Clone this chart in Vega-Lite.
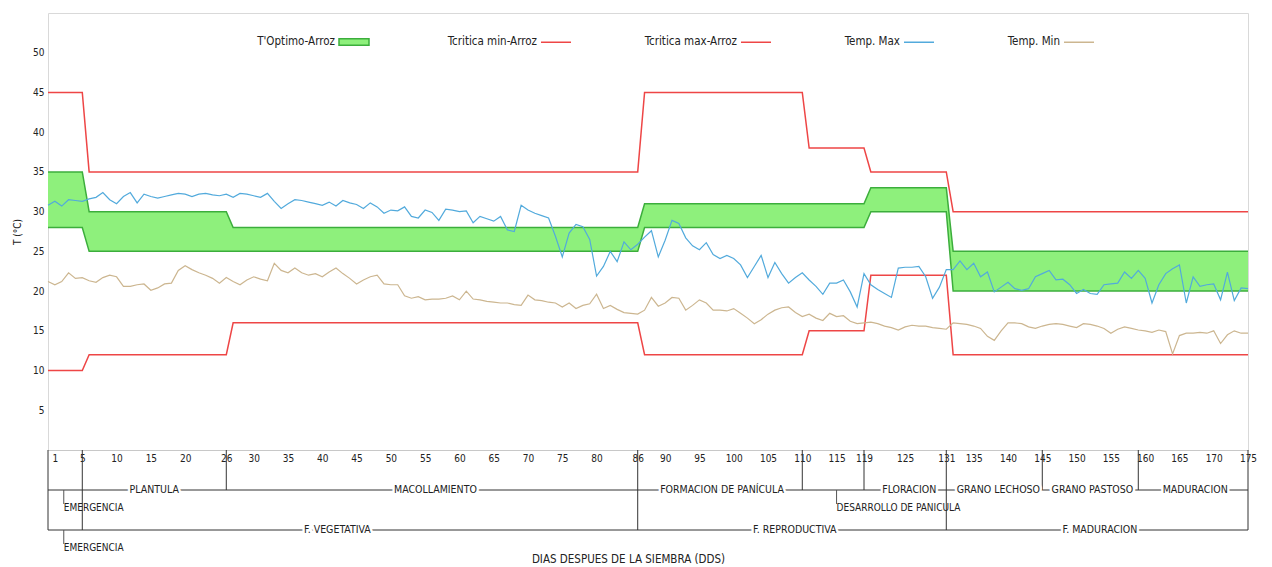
{
  "$schema": "https://vega.github.io/schema/vega-lite/v6.json",
  "width": 1200,
  "height": 437,
  "autosize": {"type": "none"},
  "padding": {"left": 48, "top": 13, "right": 24, "bottom": 117},
  "background": "white",
  "config": {
    "font": "DejaVu Sans Condensed, sans-serif",
    "view": {"stroke": "#d9d9d9", "strokeWidth": 1},
    "axis": {"labelColor": "#222", "titleColor": "#222", "titleFontWeight": "normal", "grid": false, "ticks": false},
    "axisX": {"labelOverlap": false, "labelFlush": false},
    "text": {"font": "DejaVu Sans Condensed, sans-serif"},
    "legend": {"labelFont": "DejaVu Sans Condensed, sans-serif"}
  },
  "datasets": {
    "umbrales": [
      {"dia": 0, "opt_min": 28, "opt_max": 35, "crit_min": 10, "crit_max": 45},
      {"dia": 5, "opt_min": 28, "opt_max": 35, "crit_min": 10, "crit_max": 45},
      {"dia": 6, "opt_min": 25, "opt_max": 30, "crit_min": 12, "crit_max": 35},
      {"dia": 26, "opt_min": 25, "opt_max": 30, "crit_min": 12, "crit_max": 35},
      {"dia": 27, "opt_min": 25, "opt_max": 28, "crit_min": 16, "crit_max": 35},
      {"dia": 86, "opt_min": 25, "opt_max": 28, "crit_min": 16, "crit_max": 35},
      {"dia": 87, "opt_min": 28, "opt_max": 31, "crit_min": 12, "crit_max": 45},
      {"dia": 110, "opt_min": 28, "opt_max": 31, "crit_min": 12, "crit_max": 45},
      {"dia": 111, "opt_min": 28, "opt_max": 31, "crit_min": 15, "crit_max": 38},
      {"dia": 119, "opt_min": 28, "opt_max": 31, "crit_min": 15, "crit_max": 38},
      {"dia": 120, "opt_min": 30, "opt_max": 33, "crit_min": 22, "crit_max": 35},
      {"dia": 131, "opt_min": 30, "opt_max": 33, "crit_min": 22, "crit_max": 35},
      {"dia": 132, "opt_min": 20, "opt_max": 25, "crit_min": 12, "crit_max": 30},
      {"dia": 175, "opt_min": 20, "opt_max": 25, "crit_min": 12, "crit_max": 30}
    ],
    "diarias": [
      {"dia":0,"tmax":30.8,"tmin":21.2},{"dia":1,"tmax":31.3,"tmin":20.8},{"dia":2,"tmax":30.7,"tmin":21.2},{"dia":3,"tmax":31.5,"tmin":22.3},
      {"dia":4,"tmax":31.4,"tmin":21.6},{"dia":5,"tmax":31.3,"tmin":21.7},{"dia":6,"tmax":31.6,"tmin":21.3},{"dia":7,"tmax":31.8,"tmin":21.1},
      {"dia":8,"tmax":32.4,"tmin":21.7},{"dia":9,"tmax":31.5,"tmin":22.0},{"dia":10,"tmax":31.0,"tmin":21.8},{"dia":11,"tmax":31.9,"tmin":20.6},
      {"dia":12,"tmax":32.4,"tmin":20.6},{"dia":13,"tmax":31.1,"tmin":20.8},{"dia":14,"tmax":32.2,"tmin":20.9},{"dia":15,"tmax":31.9,"tmin":20.1},
      {"dia":16,"tmax":31.7,"tmin":20.4},{"dia":17,"tmax":31.9,"tmin":20.9},{"dia":18,"tmax":32.1,"tmin":21.0},{"dia":19,"tmax":32.3,"tmin":22.6},
      {"dia":20,"tmax":32.2,"tmin":23.2},{"dia":21,"tmax":31.9,"tmin":22.7},{"dia":22,"tmax":32.2,"tmin":22.3},{"dia":23,"tmax":32.3,"tmin":22.0},
      {"dia":24,"tmax":32.1,"tmin":21.6},{"dia":25,"tmax":32.0,"tmin":21.0},{"dia":26,"tmax":32.2,"tmin":21.7},{"dia":27,"tmax":31.8,"tmin":21.2},
      {"dia":28,"tmax":32.3,"tmin":20.8},{"dia":29,"tmax":32.2,"tmin":21.4},{"dia":30,"tmax":32.0,"tmin":21.8},{"dia":31,"tmax":31.8,"tmin":21.5},
      {"dia":32,"tmax":32.3,"tmin":21.3},{"dia":33,"tmax":31.3,"tmin":23.5},{"dia":34,"tmax":30.4,"tmin":22.6},{"dia":35,"tmax":31.0,"tmin":22.3},
      {"dia":36,"tmax":31.5,"tmin":22.9},{"dia":37,"tmax":31.4,"tmin":22.3},{"dia":38,"tmax":31.2,"tmin":22.0},{"dia":39,"tmax":31.0,"tmin":22.2},
      {"dia":40,"tmax":30.8,"tmin":21.8},{"dia":41,"tmax":31.2,"tmin":22.4},{"dia":42,"tmax":30.7,"tmin":22.9},{"dia":43,"tmax":31.4,"tmin":22.2},
      {"dia":44,"tmax":31.1,"tmin":21.6},{"dia":45,"tmax":30.9,"tmin":20.9},{"dia":46,"tmax":30.4,"tmin":21.4},{"dia":47,"tmax":31.1,"tmin":21.8},
      {"dia":48,"tmax":30.6,"tmin":22.0},{"dia":49,"tmax":29.8,"tmin":20.9},{"dia":50,"tmax":30.2,"tmin":20.8},{"dia":51,"tmax":30.1,"tmin":20.8},
      {"dia":52,"tmax":30.6,"tmin":19.4},{"dia":53,"tmax":29.4,"tmin":19.1},{"dia":54,"tmax":29.2,"tmin":19.3},{"dia":55,"tmax":30.2,"tmin":18.9},
      {"dia":56,"tmax":29.9,"tmin":19.0},{"dia":57,"tmax":28.9,"tmin":19.0},{"dia":58,"tmax":30.3,"tmin":19.1},{"dia":59,"tmax":30.2,"tmin":19.4},
      {"dia":60,"tmax":30.0,"tmin":18.9},{"dia":61,"tmax":30.1,"tmin":20.0},{"dia":62,"tmax":28.6,"tmin":19.0},{"dia":63,"tmax":29.4,"tmin":18.9},
      {"dia":64,"tmax":29.1,"tmin":18.7},{"dia":65,"tmax":28.8,"tmin":18.6},{"dia":66,"tmax":29.4,"tmin":18.5},{"dia":67,"tmax":27.7,"tmin":18.5},
      {"dia":68,"tmax":27.5,"tmin":18.3},{"dia":69,"tmax":30.8,"tmin":18.2},{"dia":70,"tmax":30.2,"tmin":19.5},{"dia":71,"tmax":29.8,"tmin":18.9},
      {"dia":72,"tmax":29.5,"tmin":18.8},{"dia":73,"tmax":29.2,"tmin":18.6},{"dia":74,"tmax":26.9,"tmin":18.5},{"dia":75,"tmax":24.3,"tmin":18.0},
      {"dia":76,"tmax":27.3,"tmin":18.5},{"dia":77,"tmax":28.4,"tmin":17.8},{"dia":78,"tmax":28.1,"tmin":18.2},{"dia":79,"tmax":26.5,"tmin":18.4},
      {"dia":80,"tmax":21.9,"tmin":19.6},{"dia":81,"tmax":23.1,"tmin":17.8},{"dia":82,"tmax":25.0,"tmin":18.2},{"dia":83,"tmax":23.7,"tmin":17.7},
      {"dia":84,"tmax":26.2,"tmin":17.3},{"dia":85,"tmax":25.2,"tmin":17.2},{"dia":86,"tmax":25.9,"tmin":17.1},{"dia":87,"tmax":26.8,"tmin":17.6},
      {"dia":88,"tmax":27.6,"tmin":19.2},{"dia":89,"tmax":24.3,"tmin":18.1},{"dia":90,"tmax":26.4,"tmin":18.5},{"dia":91,"tmax":28.9,"tmin":19.2},
      {"dia":92,"tmax":28.5,"tmin":19.1},{"dia":93,"tmax":26.7,"tmin":17.6},{"dia":94,"tmax":25.7,"tmin":18.2},{"dia":95,"tmax":25.2,"tmin":18.9},
      {"dia":96,"tmax":26.1,"tmin":18.5},{"dia":97,"tmax":24.6,"tmin":17.6},{"dia":98,"tmax":24.1,"tmin":17.6},{"dia":99,"tmax":24.5,"tmin":17.5},
      {"dia":100,"tmax":24.1,"tmin":17.8},{"dia":101,"tmax":23.3,"tmin":17.2},{"dia":102,"tmax":21.7,"tmin":16.6},{"dia":103,"tmax":23.1,"tmin":15.9},
      {"dia":104,"tmax":24.5,"tmin":16.4},{"dia":105,"tmax":21.7,"tmin":17.1},{"dia":106,"tmax":23.6,"tmin":17.6},{"dia":107,"tmax":22.2,"tmin":17.9},
      {"dia":108,"tmax":21.0,"tmin":18.0},{"dia":109,"tmax":21.7,"tmin":17.3},{"dia":110,"tmax":22.3,"tmin":16.8},{"dia":111,"tmax":21.4,"tmin":17.1},
      {"dia":112,"tmax":20.6,"tmin":16.6},{"dia":113,"tmax":19.6,"tmin":16.3},{"dia":114,"tmax":21.0,"tmin":17.2},{"dia":115,"tmax":21.0,"tmin":16.8},
      {"dia":116,"tmax":21.4,"tmin":16.9},{"dia":117,"tmax":19.9,"tmin":16.2},{"dia":118,"tmax":18.0,"tmin":15.9},{"dia":119,"tmax":22.2,"tmin":16.0},
      {"dia":120,"tmax":20.8,"tmin":16.1},{"dia":121,"tmax":20.2,"tmin":15.9},{"dia":122,"tmax":19.7,"tmin":15.6},{"dia":123,"tmax":19.2,"tmin":15.4},
      {"dia":124,"tmax":22.9,"tmin":15.1},{"dia":125,"tmax":23.0,"tmin":15.5},{"dia":126,"tmax":23.0,"tmin":15.7},{"dia":127,"tmax":23.1,"tmin":15.6},
      {"dia":128,"tmax":21.8,"tmin":15.6},{"dia":129,"tmax":19.1,"tmin":15.4},{"dia":130,"tmax":20.5,"tmin":15.3},{"dia":131,"tmax":22.7,"tmin":15.2},
      {"dia":132,"tmax":22.7,"tmin":16.0},{"dia":133,"tmax":23.8,"tmin":15.9},{"dia":134,"tmax":22.7,"tmin":15.8},{"dia":135,"tmax":23.5,"tmin":15.6},
      {"dia":136,"tmax":21.8,"tmin":15.3},{"dia":137,"tmax":22.4,"tmin":14.3},{"dia":138,"tmax":19.9,"tmin":13.8},{"dia":139,"tmax":20.5,"tmin":15.0},
      {"dia":140,"tmax":21.1,"tmin":16.0},{"dia":141,"tmax":20.3,"tmin":16.0},{"dia":142,"tmax":20.1,"tmin":15.9},{"dia":143,"tmax":20.3,"tmin":15.5},
      {"dia":144,"tmax":21.8,"tmin":15.3},{"dia":145,"tmax":22.2,"tmin":15.6},{"dia":146,"tmax":22.6,"tmin":15.8},{"dia":147,"tmax":21.4,"tmin":15.9},
      {"dia":148,"tmax":21.5,"tmin":15.8},{"dia":149,"tmax":20.8,"tmin":15.6},{"dia":150,"tmax":19.7,"tmin":15.4},{"dia":151,"tmax":20.2,"tmin":15.9},
      {"dia":152,"tmax":19.7,"tmin":15.8},{"dia":153,"tmax":19.6,"tmin":15.6},{"dia":154,"tmax":20.8,"tmin":15.3},{"dia":155,"tmax":20.9,"tmin":14.7},
      {"dia":156,"tmax":21.0,"tmin":15.2},{"dia":157,"tmax":22.4,"tmin":15.5},{"dia":158,"tmax":21.6,"tmin":15.3},{"dia":159,"tmax":22.6,"tmin":15.1},
      {"dia":160,"tmax":21.6,"tmin":15.0},{"dia":161,"tmax":18.5,"tmin":14.8},{"dia":162,"tmax":20.8,"tmin":15.1},{"dia":163,"tmax":22.2,"tmin":14.9},
      {"dia":164,"tmax":22.8,"tmin":12.1},{"dia":165,"tmax":23.3,"tmin":14.4},{"dia":166,"tmax":18.5,"tmin":14.7},{"dia":167,"tmax":21.8,"tmin":14.7},
      {"dia":168,"tmax":20.6,"tmin":14.8},{"dia":169,"tmax":20.8,"tmin":14.7},{"dia":170,"tmax":20.9,"tmin":15.0},{"dia":171,"tmax":18.9,"tmin":13.4},
      {"dia":172,"tmax":22.4,"tmin":14.5},{"dia":173,"tmax":18.8,"tmin":15.0},{"dia":174,"tmax":20.4,"tmin":14.7},{"dia":175,"tmax":20.3,"tmin":14.7}
    ],
    "filas": [{"nivel": 1}, {"nivel": 2}],
    "limites": [
      {"dia": 0, "nivel": 2}, {"dia": 5, "nivel": 2}, {"dia": 26, "nivel": 1}, {"dia": 86, "nivel": 2},
      {"dia": 110, "nivel": 1}, {"dia": 119, "nivel": 1}, {"dia": 131, "nivel": 2}, {"dia": 145, "nivel": 1},
      {"dia": 159, "nivel": 1}, {"dia": 175, "nivel": 2}
    ],
    "etapas": [
      {"etapa": "PLANTULA", "centro": 15.5, "nivel": 1},
      {"etapa": "MACOLLAMIENTO", "centro": 56.5, "nivel": 1},
      {"etapa": "FORMACION DE PANÍCULA", "centro": 98.3, "nivel": 1},
      {"etapa": "FLORACION", "centro": 125.6, "nivel": 1},
      {"etapa": "GRANO LECHOSO", "centro": 138.6, "nivel": 1},
      {"etapa": "GRANO PASTOSO", "centro": 152.3, "nivel": 1},
      {"etapa": "MADURACION", "centro": 167.3, "nivel": 1},
      {"etapa": "F. VEGETATIVA", "centro": 42.2, "nivel": 2},
      {"etapa": "F. REPRODUCTIVA", "centro": 108.9, "nivel": 2},
      {"etapa": "F. MADURACION", "centro": 153.4, "nivel": 2}
    ],
    "notas": [
      {"nota": "EMERGENCIA", "dia": 2.3, "nivel": 1},
      {"nota": "EMERGENCIA", "dia": 2.3, "nivel": 2},
      {"nota": "DESARROLLO DE PANICULA", "dia": 115, "nivel": 1}
    ]
  },
  "layer": [
    {
      "layer": [
        {
          "data": {"name": "umbrales"},
          "mark": {"type": "area", "opacity": 1},
          "encoding": {
            "x": {
              "field": "dia", "type": "quantitative",
              "scale": {"domain": [0, 175], "nice": false, "zero": false},
              "axis": {
                "values": [1, 5, 10, 15, 20, 26, 30, 35, 40, 45, 50, 55, 60, 65, 70, 75, 80, 86, 90, 95, 100, 105, 110, 115, 119, 125, 131, 135, 140, 145, 150, 155, 160, 165, 170, 175],
                "tickCount": 60,
                "labelFontSize": 10, "labelPadding": 3, "labelFlush": false, "labelOverlap": false,
                "domainColor": "#c8c8c8",
                "title": "DIAS DESPUES DE LA SIEMBRA (DDS)", "titleFontSize": 11.5, "titlePadding": 90, "titleX": 580
              }
            },
            "y": {
              "field": "opt_min", "type": "quantitative",
              "scale": {"domain": [0, 55], "nice": false, "zero": false},
              "axis": {
                "values": [5, 10, 15, 20, 25, 30, 35, 40, 45, 50],
                "tickCount": 20,
                "title": "T (°C)", "titleFontSize": 10, "titlePadding": 10,
                "labelFontSize": 10, "labelPadding": 4, "domain": false
              }
            },
            "y2": {"field": "opt_max"},
            "fill": {
              "datum": "T'Optimo-Arroz",
              "scale": {"domain": ["T'Optimo-Arroz"], "range": ["#8ef07c"]},
              "legend": {
                "orient": "none", "legendX": 290, "legendY": 13, "title": null,
                "labelAlign": "right", "labelOffset": -35,
                "symbolType": "M-1,-0.22H1V0.22H-1Z", "symbolSize": 900,
                "symbolStrokeColor": "#3cae3c", "symbolStrokeWidth": 1.5, "symbolOpacity": 1,
                "labelFontSize": 11.5, "labelColor": "#222"
              }
            }
          }
        },
        {
          "data": {"name": "umbrales"},
          "mark": {"type": "line", "color": "#3cae3c", "strokeWidth": 1.5},
          "encoding": {"x": {"field": "dia", "type": "quantitative"}, "y": {"field": "opt_min", "type": "quantitative"}}
        },
        {
          "data": {"name": "umbrales"},
          "mark": {"type": "line", "color": "#3cae3c", "strokeWidth": 1.5},
          "encoding": {"x": {"field": "dia", "type": "quantitative"}, "y": {"field": "opt_max", "type": "quantitative"}}
        },
        {
          "data": {"name": "umbrales"},
          "mark": {"type": "line", "strokeWidth": 1.5},
          "encoding": {
            "x": {"field": "dia", "type": "quantitative"},
            "y": {"field": "crit_min", "type": "quantitative"},
            "stroke": {
              "datum": "Tcritica min-Arroz",
              "scale": {
                "domain": ["Tcritica min-Arroz", "Tcritica max-Arroz", "Temp. Max", "Temp. Min"],
                "range": ["#ee4646", "#ee4646", "#52aadc", "#ccb690"]
              },
              "legend": {
                "orient": "none", "legendX": 492, "legendY": 13, "direction": "horizontal", "columns": 4,
                "title": null, "labelAlign": "right", "labelOffset": -35, "columnPadding": 70,
                "symbolType": "stroke", "symbolSize": 900, "symbolStrokeWidth": 1.5,
                "labelFontSize": 11.5, "labelColor": "#222"
              }
            }
          }
        },
        {
          "data": {"name": "umbrales"},
          "mark": {"type": "line", "strokeWidth": 1.5},
          "encoding": {"x": {"field": "dia", "type": "quantitative"}, "y": {"field": "crit_max", "type": "quantitative"}, "stroke": {"datum": "Tcritica max-Arroz"}}
        },
        {
          "data": {"name": "diarias"},
          "mark": {"type": "line", "strokeWidth": 1.2},
          "encoding": {"x": {"field": "dia", "type": "quantitative"}, "y": {"field": "tmin", "type": "quantitative"}, "stroke": {"datum": "Temp. Min"}}
        },
        {
          "data": {"name": "diarias"},
          "mark": {"type": "line", "strokeWidth": 1.2},
          "encoding": {"x": {"field": "dia", "type": "quantitative"}, "y": {"field": "tmax", "type": "quantitative"}, "stroke": {"datum": "Temp. Max"}}
        }
      ]
    },
    {
      "layer": [
        {
          "data": {"name": "filas"},
          "mark": {"type": "rule", "color": "#333", "strokeWidth": 1},
          "encoding": {
            "x": {"datum": 0, "type": "quantitative"},
            "x2": {"datum": 175},
            "y": {"field": "nivel", "type": "quantitative", "scale": {"domain": [0, 2], "range": [437, 517], "nice": false, "zero": false}, "axis": null}
          }
        },
        {
          "data": {"name": "limites"},
          "mark": {"type": "rule", "color": "#333", "strokeWidth": 1},
          "encoding": {
            "x": {"field": "dia", "type": "quantitative"},
            "y": {"field": "nivel", "type": "quantitative", "axis": null},
            "y2": {"datum": 0}
          }
        },
        {
          "data": {"name": "notas"},
          "mark": {"type": "rule", "color": "#555", "strokeWidth": 1, "y2Offset": 14},
          "encoding": {
            "x": {"field": "dia", "type": "quantitative"},
            "y": {"field": "nivel", "type": "quantitative", "axis": null},
            "y2": {"field": "nivel"}
          }
        },
        {
          "data": {"name": "notas"},
          "mark": {"type": "text", "align": "left", "baseline": "middle", "dx": 0, "dy": 18, "fontSize": 10, "color": "#222"},
          "encoding": {
            "x": {"field": "dia", "type": "quantitative"},
            "y": {"field": "nivel", "type": "quantitative", "axis": null},
            "text": {"field": "nota"}
          }
        },
        {
          "data": {"name": "etapas"},
          "mark": {"type": "text", "align": "center", "baseline": "middle", "fontSize": 10.5, "color": "white", "stroke": "white", "strokeWidth": 5},
          "encoding": {
            "x": {"field": "centro", "type": "quantitative"},
            "y": {"field": "nivel", "type": "quantitative", "axis": null},
            "text": {"field": "etapa"}
          }
        },
        {
          "data": {"name": "etapas"},
          "mark": {"type": "text", "align": "center", "baseline": "middle", "fontSize": 10.5, "color": "#222"},
          "encoding": {
            "x": {"field": "centro", "type": "quantitative"},
            "y": {"field": "nivel", "type": "quantitative", "axis": null},
            "text": {"field": "etapa"}
          }
        }
      ]
    }
  ],
  "resolve": {"scale": {"y": "independent"}}
}
